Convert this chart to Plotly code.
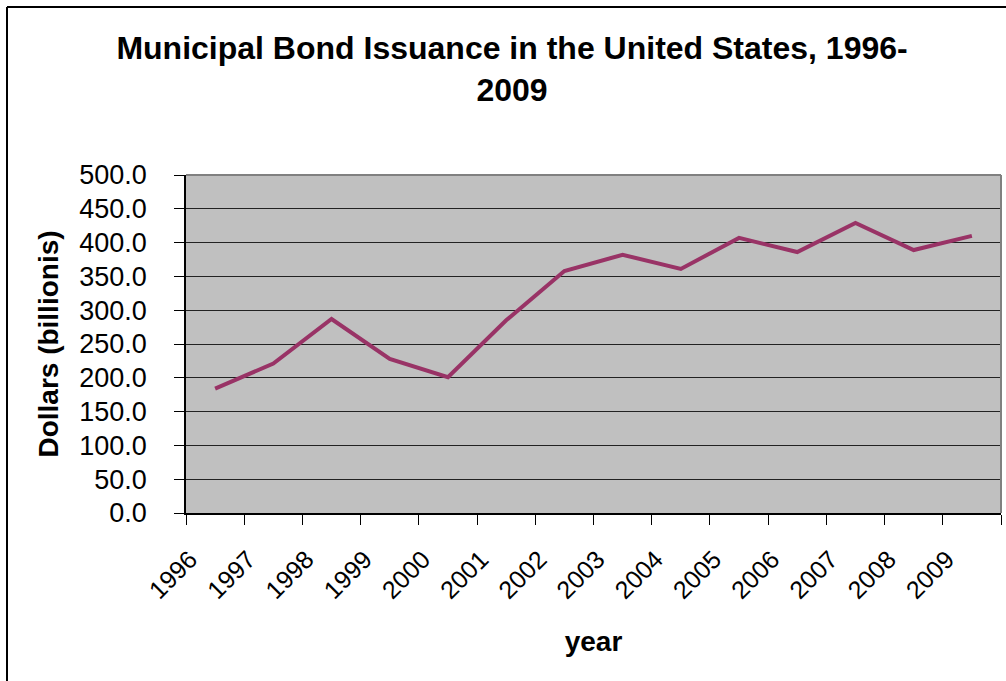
import plotly.graph_objects as go

years = ["1996", "1997", "1998", "1999", "2000", "2001", "2002",
         "2003", "2004", "2005", "2006", "2007", "2008", "2009"]
issuance = [184, 221, 287, 228, 201, 285, 358, 382, 361, 407, 386, 429, 389, 410]
y_ticks = [0, 50, 100, 150, 200, 250, 300, 350, 400, 450, 500]
y_tick_labels = [f"{v:.1f}" for v in y_ticks]

FONT = "Arial, Liberation Sans, sans-serif"

fig = go.Figure()
fig.add_trace(go.Scatter(
    x=years, y=issuance, mode="lines",
    line=dict(color="#993366", width=4),
    showlegend=False, hoverinfo="x+y",
))

L, R, T, B = 186, 5, 175, 168
W, H = 1006, 681
pw, ph = W - L - R, H - T - B

def px_x(p):
    return (p - L) / pw

def px_y(p):
    return (H - B - p) / ph

fig.update_layout(
    width=W, height=H,
    margin=dict(l=L, r=R, t=T, b=B, autoexpand=False),
    paper_bgcolor="white",
    plot_bgcolor="#C0C0C0",
    font=dict(family=FONT, color="black"),
    title=dict(
        text="<b>Municipal Bond Issuance in the United States, 1996-<br>2009</b>",
        font=dict(size=32, family=FONT, color="black"),
        x=0.509, xanchor="center", xref="container",
        y=0.913, yanchor="top",
    ),
    xaxis=dict(
        type="category",
        range=[-0.5, 13.5],
        tickson="boundaries",
        ticks="outside", ticklen=10, tickcolor="black", tickwidth=1,
        showline=True, linecolor="black", linewidth=1.5,
        showgrid=False,
        tickangle=-45,
        tickfont=dict(size=25, family=FONT),
        ticklabelshift=-25,
        ticklabelstandoff=20,
        title=dict(text="<b>year</b>", font=dict(size=28, family=FONT), standoff=28),
        zeroline=False,
    ),
    yaxis=dict(
        range=[0, 500],
        tickvals=y_ticks, ticktext=y_tick_labels,
        ticks="outside", ticklen=10, tickcolor="black", tickwidth=1,
        showline=True, linecolor="black", linewidth=1.5,
        showgrid=True, gridcolor="#222222", gridwidth=1,
        tickfont=dict(size=27, family=FONT),
        ticklabelstandoff=22,
        title=dict(text="<b>Dollars (billionis)</b>", font=dict(size=28, family=FONT), standoff=12),
        zeroline=False,
    ),
    shapes=[
        # plot-area top and right borders (gray)
        dict(type="line", xref="paper", yref="paper", x0=0, x1=1, y0=1, y1=1,
             line=dict(color="#808080", width=2), layer="above"),
        dict(type="line", xref="paper", yref="paper", x0=1, x1=1, y0=0, y1=1,
             line=dict(color="#808080", width=2), layer="above"),
        # chart-area frame (left and top visible)
        dict(type="line", xref="paper", yref="paper",
             x0=px_x(7), x1=px_x(1010), y0=px_y(7), y1=px_y(7),
             line=dict(color="black", width=2)),
        dict(type="line", xref="paper", yref="paper",
             x0=px_x(7), x1=px_x(7), y0=px_y(7), y1=px_y(690),
             line=dict(color="black", width=2)),
    ],
)

fig.write_html(
    "out.html",
    config={"displayModeBar": False},
    post_script="document.body.style.margin='0';document.body.style.overflow='hidden';",
)
